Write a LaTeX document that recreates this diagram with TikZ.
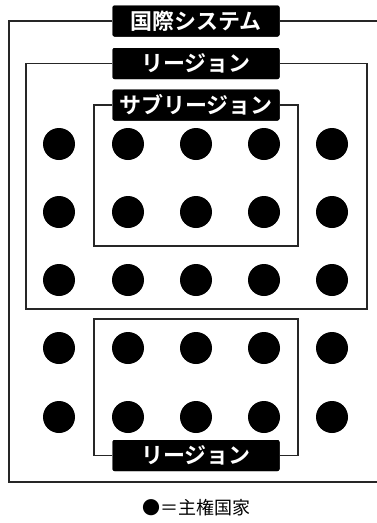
\documentclass[tikz,border=0pt]{standalone}
\usepackage{fontspec}
\newfontfamily\jpfont{Noto Sans CJK JP}
\newfontfamily\jpbold{Noto Sans CJK JP Bold}
\begin{document}
\begin{tikzpicture}[x=1pt,y=-1pt,
  frame/.style={draw=black!85, line width=1.6pt},
  lab/.style={fill=black, rounded corners=2pt, text=white, font=\jpbold\fontsize{22}{22}\selectfont,
    minimum width=167pt, minimum height=31pt, inner sep=0pt},
  dot/.style={circle, fill=black, minimum size=32pt, inner sep=0pt}]
\useasboundingbox (0,0) rectangle (377,523);
\clip (0,0) rectangle (377,523);
\fill[white] (0,0) rectangle (377,523);
% labels
\node[lab] (l1) at (196,21) {国際システム};
\node[lab] (l2) at (196,63.5) {リージョン};
\node[lab] (l3) at (196,105) {サブリージョン};
\node[lab] (l4) at (196,455.5) {リージョン};
% corners
\coordinate (o1) at (9,482);
\coordinate (o2) at (382,21);
\coordinate (r1) at (26,309);
\coordinate (r2) at (367,63.5);
\coordinate (s1) at (94,246);
\coordinate (s2) at (298,105);
\coordinate (t1) at (94,319);
\coordinate (t2) at (298,455.5);
% frames
\draw[frame] (l1.west) -| (o1) -| (o2) -- (l1.east);
\draw[frame] (l2.west) -| (r1) -| (r2) -- (l2.east);
\draw[frame] (l3.west) -| (s1) -| (s2) -- (l3.east);
\draw[frame] (l4.west) -| (t1) -| (t2) -- (l4.east);
% redraw labels on top
\node[lab] at (l1) {国際システム};
\node[lab] at (l2) {リージョン};
\node[lab] at (l3) {サブリージョン};
\node[lab] at (l4) {リージョン};
% dots
\foreach \r/\y in {1/144,2/212,3/280,4/348,5/417}{
  \foreach \c/\x in {1/59,2/128,3/196,4/264,5/332}{
    \node[dot] (d\r\c) at (\x,\y) {};
  }
}
% legend
\node[font=\jpfont\fontsize{18}{18}\selectfont, inner sep=0pt] (leg) at (196,508) {●＝主権国家};
\end{tikzpicture}
\end{document}
